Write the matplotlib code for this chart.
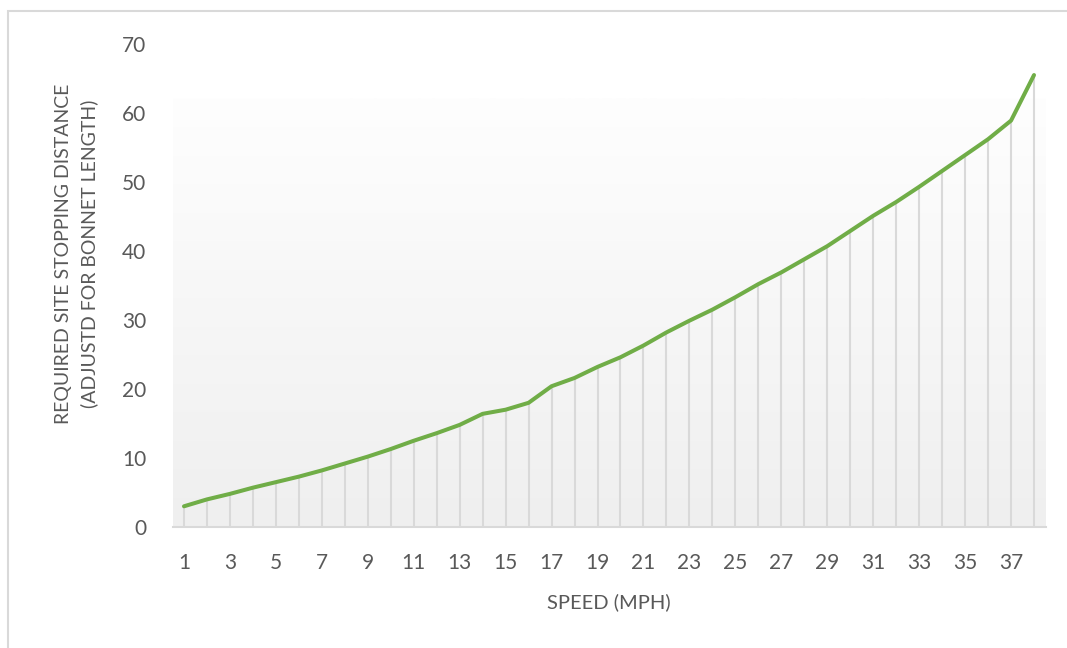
import numpy as np
import matplotlib
matplotlib.use("Agg")
import matplotlib.pyplot as plt
from matplotlib.patches import Rectangle

# speed (mph) categories and distances
speed = list(range(1, 39))
distance = [3.0, 4.0, 4.8, 5.7, 6.5, 7.3, 8.2, 9.2, 10.2, 11.3,
            12.5, 13.6, 14.8, 16.4, 17.0, 18.0, 20.4, 21.6, 23.2, 24.6,
            26.3, 28.2, 29.9, 31.5, 33.3, 35.2, 36.9, 38.8, 40.7, 42.9,
            45.1, 47.1, 49.3, 51.6, 53.9, 56.2, 58.9, 65.5]
y_ticks = [0, 10, 20, 30, 40, 50, 60, 70]
x_tick_labels = [str(s) for s in speed[::2]]

plt.rcParams["font.family"] = ["Lato", "DejaVu Sans"]
grey_text = "#595959"
grey_line = "#d9d9d9"

fig = plt.figure(figsize=(10.67, 6.48), dpi=100)
fig.patch.set_facecolor("white")

# outer chart border
fig.patches.append(Rectangle((8 / 1067, -0.05), 1.2, 1 - 11 / 648 + 0.05,
                             transform=fig.transFigure, fill=False,
                             edgecolor="#d9d9d9", linewidth=1.5))

ax = fig.add_axes([172.5 / 1067, 1 - 527 / 648, 873 / 1067, 483 / 648])
ax.set_facecolor("white")

# gradient plot area (stops short of the top tick, like the original)
grad = np.linspace(0, 1, 256).reshape(-1, 1)
ax.imshow(grad, cmap=matplotlib.colors.LinearSegmentedColormap.from_list(
    "bg", ["#efefef", "#fefefe"]), aspect="auto", origin="lower",
    extent=[0, 1, 0, 429 / 483], transform=ax.transAxes, zorder=0)

ax.vlines(speed, 0, distance, color=grey_line, linewidth=1.5, zorder=1)
ax.plot(speed, distance, color="#70ad47", linewidth=2.9,
        solid_capstyle="round", solid_joinstyle="round", zorder=3)

ax.set_xlim(0.5, 38.5)
ax.set_ylim(0, 70)
ax.set_yticks(y_ticks)
ax.set_xticks(speed[::2])
ax.set_xticklabels(x_tick_labels)

for side in ["top", "right", "left"]:
    ax.spines[side].set_visible(False)
ax.spines["bottom"].set_color(grey_line)
ax.spines["bottom"].set_linewidth(1.5)
ax.spines["bottom"].set_zorder(2)

ax.tick_params(axis="both", length=0, labelsize=15, labelcolor=grey_text)
ax.tick_params(axis="y", pad=19)
ax.tick_params(axis="x", pad=19)

ax.set_xlabel("SPEED (MPH)", fontsize=14.5, color=grey_text, labelpad=14)
fig.text(77 / 1067, 1 - 254 / 648,
         "REQUIRED SITE STOPPING DISTANCE\n(ADJUSTD FOR BONNET LENGTH)",
         rotation=90, ha="center", va="center", fontsize=14,
         color=grey_text, linespacing=1.55)

fig.savefig("out.png", dpi=100)
